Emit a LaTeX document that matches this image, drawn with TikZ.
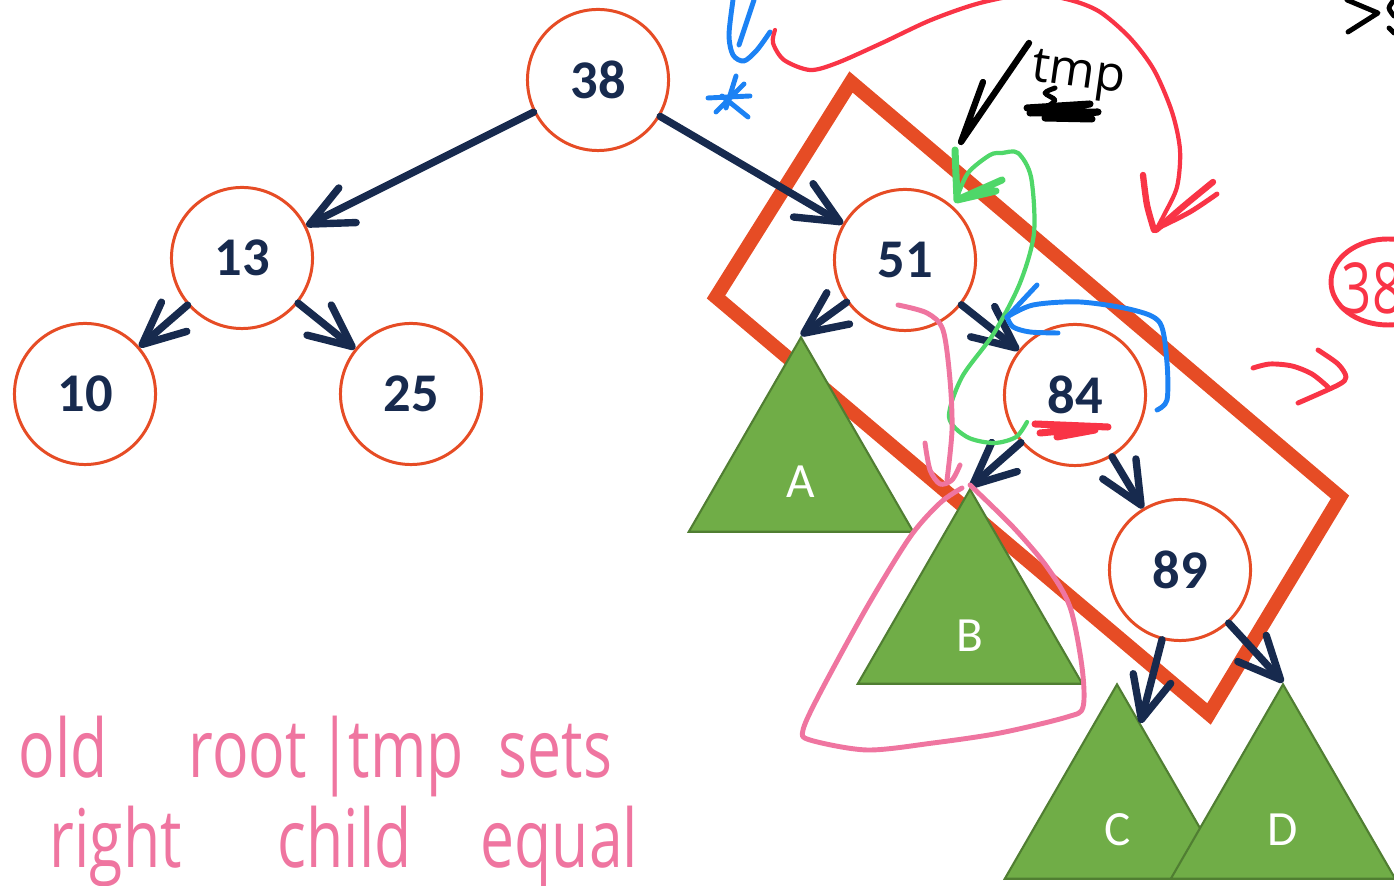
\documentclass[tikz,border=0pt]{standalone}
\usepackage{fontspec}
\usetikzlibrary{arrows.meta,shapes.geometric}
\setmainfont{Carlito}
\newfontfamily\handfont[FakeStretch=0.75]{Open Sans}
\newfontfamily\notefont{Open Sans}

\definecolor{navy}{HTML}{172A4E}
\definecolor{brick}{HTML}{E64C25}
\definecolor{leaf}{HTML}{70AD47}
\definecolor{leafdark}{HTML}{507E32}
\definecolor{inkpink}{HTML}{EF75A0}
\definecolor{inkred}{HTML}{F93446}
\definecolor{inkblue}{HTML}{1C82F4}
\definecolor{inkgreen}{HTML}{4FD769}

\begin{document}
\begin{tikzpicture}[x=0.01cm,y=-0.01cm,
  key/.style={circle,draw=brick,line width=0.85pt,fill=white,minimum size=1.41cm,
    inner sep=0pt,text=navy,font=\fontsize{15.5}{18}\selectfont\bfseries},
  subtree/.style={regular polygon,regular polygon sides=3,minimum size=2.59cm,
    inner sep=0pt,draw=leafdark,line width=0.6pt,fill=leaf},
  subname/.style={text=white,inner sep=0pt,font=\fontsize{14}{16}\selectfont},
  link/.style={navy,line width=2.1pt,line cap=round,
    -{Straight Barb[length=12pt,width=11pt,round]}},
  ink/.style={line width=1.4pt,line cap=round,line join=round},
  words/.style={text=inkpink,inner sep=0pt,anchor=base west,
    font=\handfont\fontsize{23}{26}\selectfont}]
\useasboundingbox (0,0) rectangle (1394,886);

% the rotation that is being traced
\draw[brick,line width=4pt,line join=miter]
  (851,82) -- (1340,497) -- (1209,714) -- (716,297) -- cycle;

% keys
\node[key] (n38) at (598,80) {38};
\node[key] (n13) at (242,258) {13};
\node[key] (n10) at (85,394) {10};
\node[key] (n25) at (411,394) {25};
\node[key] (n51) at (905,260) {51};
\node[key] (n84) at (1075,395) {84};
\node[key] (n89) at (1180,570) {89};

% subtrees
\node[subtree] (A) at (801,467) {};
\node[subtree] (B) at (970,619) {};
\node[subtree] (C) at (1117,814) {};
\node[subtree] (D) at (1283,814) {};
\node[subname] (labA) at (801,482) {A};
\node[subname] (labB) at (970,636) {B};
\node[subname] (labC) at (1118,830) {C};
\node[subname] (labD) at (1283,830) {D};

\draw[link] (n38) -- (n13);
\draw[link] (n38) -- (n51);
\draw[link] (n13) -- (n10);
\draw[link] (n13) -- (n25);
\draw[link] (n51) -- (A.corner 1);
\draw[link] (n51) -- (n84);
\draw[link] (n84) -- (B.corner 1);
\draw[link] (n84) -- (n89);
\draw[link] (n89) -- (C);
\draw[link] (n89) -- (D.corner 1);

% pen notes
\draw[ink,inkblue] plot[smooth] coordinates {(733,0) (729,35) (733,55) (744,61) (757,50) (770,32)};
\draw[ink,inkblue] (754,0) -- (739,45);
\draw[ink,inkblue] (736,76) -- (726,108) (708,98) -- (750,96)
  (716,112) -- (744,84) (722,96) -- (748,117);

\draw[ink,inkred,line width=1.2pt] plot[smooth] coordinates {(775,30) (773,43) (784,60)
  (810,70) (837,63) (882,43) (931,20) (980,3) (1030,-6) (1070,0) (1100,12) (1130,38)
  (1154,70) (1172,112) (1180,150) (1177,187) (1164,215) (1156,230)};
\draw[ink,inkred,line width=1.8pt] plot[smooth] coordinates {(1143,175) (1147,205) (1154,230)};
\draw[ink,inkred,line width=1.8pt] plot[smooth] coordinates {(1213,182) (1185,205) (1156,230)};
\draw[ink,inkred] plot[smooth] coordinates {(1217,194) (1190,212) (1158,228)};

\draw[ink,black,line width=1.8pt] (1029,43) -- (961,142) -- (983,82);
\node[font=\notefont\fontsize{14}{16}\selectfont,anchor=base west,inner sep=0pt,
  rotate=-8] (tmpnote) at (1030,80) {tmp};
\draw[ink,black] plot[smooth] coordinates {(1055,88) (1045,93) (1055,100) (1048,106)};
\draw[ink,black,line width=2pt] (1027,108) -- (1090,104) -- (1030,113) -- (1098,112)
  -- (1045,118) -- (1092,119);

\draw[ink,inkgreen,line width=1.2pt] plot[smooth] coordinates {(956,200) (968,173) (990,155)
  (1002,153) (1018,153) (1031,177) (1034,233) (1020,283) (994,333) (962,377) (949,417)
  (967,437) (994,443) (1016,437) (1027,422)};
\draw[ink,inkgreen,line width=2pt] (955,150) -- (957,200) -- (1002,180) (957,200) -- (996,191);

\draw[ink,inkblue] (1037,285) -- (1007,317);
\draw[ink,inkblue] plot[smooth] coordinates {(1007,317) (1013,327) (1030,332) (1058,333)};
\draw[ink,inkblue] plot[smooth] coordinates {(1007,317) (1033,305) (1080,302) (1133,310)
  (1160,323) (1167,363) (1167,400) (1157,410)};

\draw[ink,inkred,line width=2pt] (1035,424) -- (1108,427) (1040,433) -- (1093,428)
  (1057,437) -- (1095,430);

\draw[ink,inkpink] plot[smooth] coordinates {(898,305) (927,313) (943,330) (950,380)
  (952,430) (947,480)};
\draw[ink,inkpink] plot[smooth] coordinates {(925,443) (930,470) (940,484) (952,480) (960,465)};
\draw[ink,inkpink] plot[smooth] coordinates {(962,488) (940,503) (910,537) (867,607)
  (820,693) (803,730) (810,740) (867,750) (933,743) (1000,733) (1067,717) (1083,707)
  (1082,667) (1070,607) (1047,567) (1013,527) (970,485)};

\draw[ink,inkred] (1388,282) ellipse [x radius=57,y radius=43];
\node[text=inkred,inner sep=0pt,font=\handfont\fontsize{20}{22}\selectfont] (red38)
  at (1372,288) {38};
\draw[ink,inkred] plot[smooth] coordinates {(1253,368) (1270,364) (1292,366) (1312,374) (1328,387)};
\draw[ink,inkred] plot[smooth] coordinates {(1318,350) (1338,364) (1346,377) (1338,385) (1298,403)};

\draw[ink,black] (1347,0) -- (1378,13) -- (1348,32);
\draw[ink,black] plot[smooth] coordinates {(1394,0) (1389,8) (1394,16)} (1389,28) -- (1394,33);

% note under the tree
\node[words] (w1) at (18,778) {old};
\node[words] (w2) at (188,778) {root};
\node[words] (w3) at (318,778) {|};
\node[words] (w4) at (348,778) {tmp};
\node[words] (w5) at (498,778) {sets};
\node[words] (w6) at (49,868) {right};
\node[words] (w7) at (277,868) {child};
\node[words] (w8) at (480,868) {equal};
\end{tikzpicture}
\end{document}
